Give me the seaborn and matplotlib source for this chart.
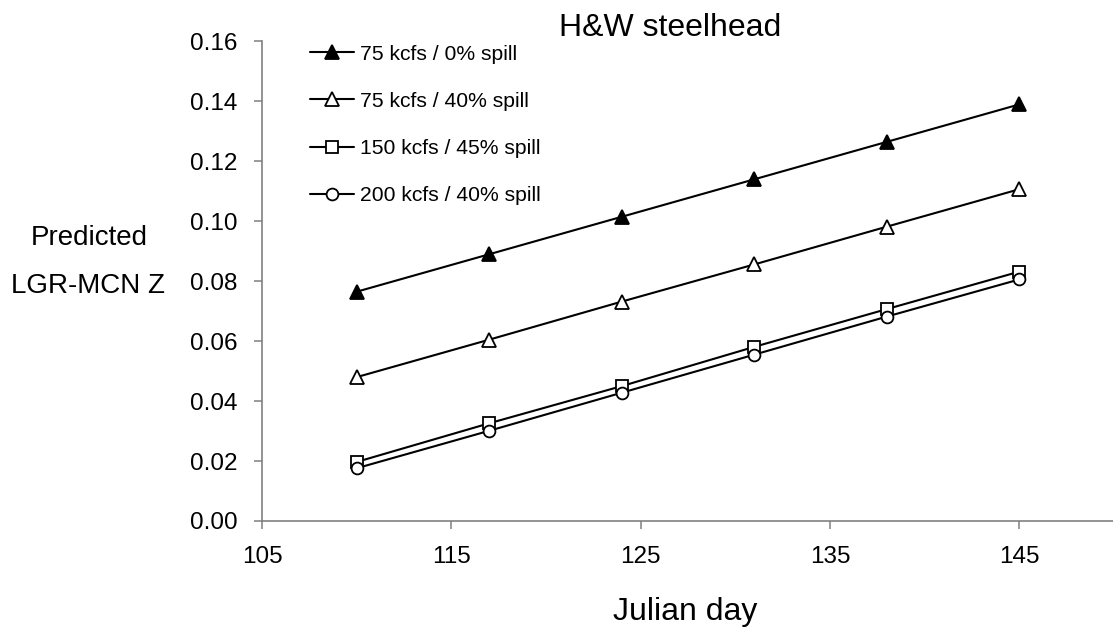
import matplotlib
matplotlib.use("Agg")
import matplotlib.pyplot as plt
import seaborn as sns
import pandas as pd

days = [110, 117, 124, 131, 138, 145]
s_75_0 = [0.0765, 0.0890, 0.1015, 0.1140, 0.1265, 0.1390]
s_75_40 = [0.0480, 0.0605, 0.0732, 0.0856, 0.0982, 0.1107]
s_150_45 = [0.0197, 0.0326, 0.0450, 0.0581, 0.0707, 0.0832]
s_200_40 = [0.0176, 0.0301, 0.0428, 0.0555, 0.0682, 0.0806]
labels = ["75 kcfs / 0% spill", "75 kcfs / 40% spill",
          "150 kcfs / 45% spill", "200 kcfs / 40% spill"]
x_ticks = [105, 115, 125, 135, 145]
y_ticks = [0.00, 0.02, 0.04, 0.06, 0.08, 0.10, 0.12, 0.14, 0.16]

sns.set_style("white")
plt.rcParams['font.family'] = ['Liberation Sans', 'DejaVu Sans']
plt.rcParams['text.color'] = 'black'

fig = plt.figure(figsize=(11.13, 6.28), dpi=100)
ax = fig.add_axes([0.2354, 0.1704, 0.7655, 0.7636])

series = [s_75_0, s_75_40, s_150_45, s_200_40]
markers = ['^', '^', 's', 'o']
faces = ['black', 'white', 'white', 'white']
sizes = [9.5, 9.5, 8.5, 8.5]
for vals, lab, m, fc, ms in zip(series, labels, markers, faces, sizes):
    df = pd.DataFrame({"day": days, "z": vals})
    sns.lineplot(data=df, x="day", y="z", ax=ax, color='black', lw=1.5,
                 marker=m, markerfacecolor=fc, markeredgecolor='black',
                 markeredgewidth=1.3, ms=ms, label=lab)

ax.set_xlim(105, 150)
ax.set_ylim(0, 0.16)
ax.set_xticks(x_ticks)
ax.set_yticks(y_ticks)
ax.set_yticklabels([f"{v:.2f}" for v in y_ticks])
ax.tick_params(axis='both', direction='out', length=6, width=1.1, color='#808080',
               labelsize=17.5, labelcolor='black', bottom=True, left=True)
ax.tick_params(axis='y', pad=11.5)
ax.tick_params(axis='x', pad=12)
for side in ['top', 'right']:
    ax.spines[side].set_visible(False)
for side in ['left', 'bottom']:
    ax.spines[side].set_color('#808080')
    ax.spines[side].set_linewidth(1.2)
ax.set_xlabel("")
ax.set_ylabel("")

fig.text(0.602, 0.943, "H&W steelhead", fontsize=23, ha='center', va='baseline', color='black')
fig.text(0.6155, 0.0127, "Julian day", fontsize=23, ha='center', va='baseline', color='black')
fig.text(0.080, 0.6099, "Predicted", fontsize=20, ha='center', va='baseline', color='black')
fig.text(0.079, 0.5334, "LGR-MCN Z", fontsize=20, ha='center', va='baseline', color='black')

leg = ax.legend(loc='upper left', bbox_to_anchor=(0.056, 0.993), frameon=False,
                fontsize=15.2, handlelength=2.1, handletextpad=0.3,
                labelspacing=1.33, borderpad=0, borderaxespad=0)
for t in leg.get_texts():
    t.set_color('black')

fig.savefig("out.png", dpi=100)
